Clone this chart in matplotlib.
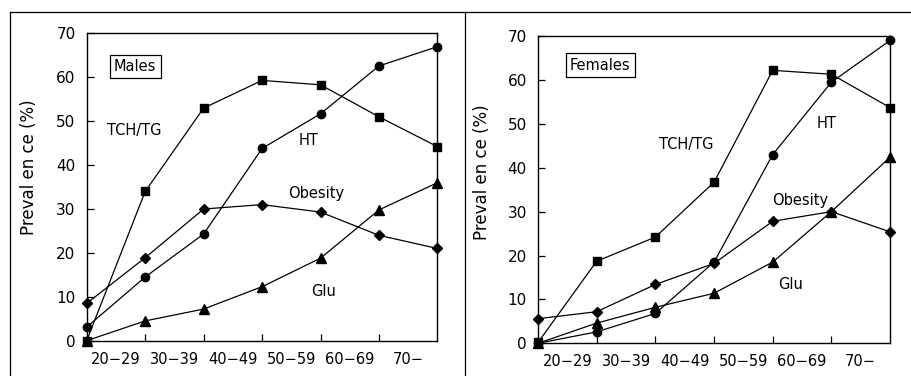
import numpy as np
import matplotlib.pyplot as plt
from matplotlib.lines import Line2D

plt.rcParams["font.family"] = ["DejaVu Sans"]

# age groups (labels sit between the tick marks)
age_groups = ["20\u221229", "30\u221239", "40\u221249", "50\u221259", "60\u221269", "70\u2212"]
x = np.arange(7)

# prevalence (%) by group
tch_m = [0, 34, 53, 59.3, 58.3, 51, 44.2]
ht_m = [3.1, 14.5, 24.3, 43.8, 51.7, 62.6, 67]
obes_m = [8.5, 18.9, 30, 31, 29.3, 24, 21]
glu_m = [0, 4.5, 7.2, 12.3, 18.8, 29.8, 36]

tch_f = [0.2, 18.7, 24.2, 36.7, 62.2, 61.3, 53.7]
ht_f = [0, 2.6, 6.8, 18.5, 43, 59.5, 69]
obes_f = [5.6, 7.2, 13.4, 18.2, 27.8, 30, 25.4]
glu_f = [0, 4.6, 8.2, 11.4, 18.5, 30, 42.4]

fig = plt.figure(figsize=(9.11, 3.76), dpi=100)

panels = [
    dict(rect=[0.0952, 0.094, 0.385, 0.817], title="Males",
         series=[tch_m, ht_m, obes_m, glu_m],
         labels=[(0.82, 48), (3.8, 45.7), (3.92, 33.6), (4.05, 11.1)],
         box=(0.83, 62.5), ylab=(-0.14, 0.565)),
    dict(rect=[0.5906, 0.087, 0.3864, 0.817], title="Females",
         series=[tch_f, ht_f, obes_f, glu_f],
         labels=[(2.53, 45.4), (4.92, 50.1), (4.47, 32.6), (4.3, 13.5)],
         box=(1.06, 63.4), ylab=(-0.135, 0.557)),
]
markers = ["s", "o", "D", "^"]
msizes = [6, 6, 5, 6.5]
names = ["TCH/TG", "HT", "Obesity", "Glu"]

for p in panels:
    ax = fig.add_axes(p["rect"])
    for vals, m, ms in zip(p["series"], markers, msizes):
        ax.plot(x, vals, color="black", lw=0.9, marker=m, ms=ms,
                mfc="black", mec="black", clip_on=False, zorder=3)

    ax.set_xlim(0, 6)
    ax.set_ylim(0, 70)
    ax.set_yticks(np.arange(0, 71, 10))
    ax.set_xticks(np.arange(1, 6))
    ax.set_xticklabels([])
    ax.set_xticks(np.arange(0.5, 6, 1), minor=True)
    ax.set_xticklabels(age_groups, minor=True)
    ax.tick_params(axis="x", which="major", direction="in", length=5, width=0.9)
    ax.tick_params(axis="x", which="minor", length=0, pad=8, labelsize=10.5)
    ax.tick_params(axis="y", direction="in", length=5, width=0.9, pad=8,
                   labelsize=11)
    for s in ax.spines.values():
        s.set_linewidth(1.0)

    ax.set_ylabel("Preval en ce (%)", fontsize=12)
    ax.yaxis.set_label_coords(*p["ylab"])

    for (tx, ty), name in zip(p["labels"], names):
        ax.text(tx, ty, name, ha="center", va="center", fontsize=10.5)

    ax.text(p["box"][0], p["box"][1], p["title"], ha="center", va="center",
            fontsize=10.5,
            bbox=dict(boxstyle="square,pad=0.3", fc="white", ec="black", lw=0.9))

# outer frame lines around the two panels
for xs, ys in [([0.011, 1.0], [0.968, 0.968]),
               ([0.011, 0.011], [0.0, 0.968]),
               ([0.510, 0.510], [0.0, 0.968])]:
    fig.add_artist(Line2D(xs, ys, color="black", lw=0.9,
                          transform=fig.transFigure))

fig.savefig("out.png", dpi=100)
